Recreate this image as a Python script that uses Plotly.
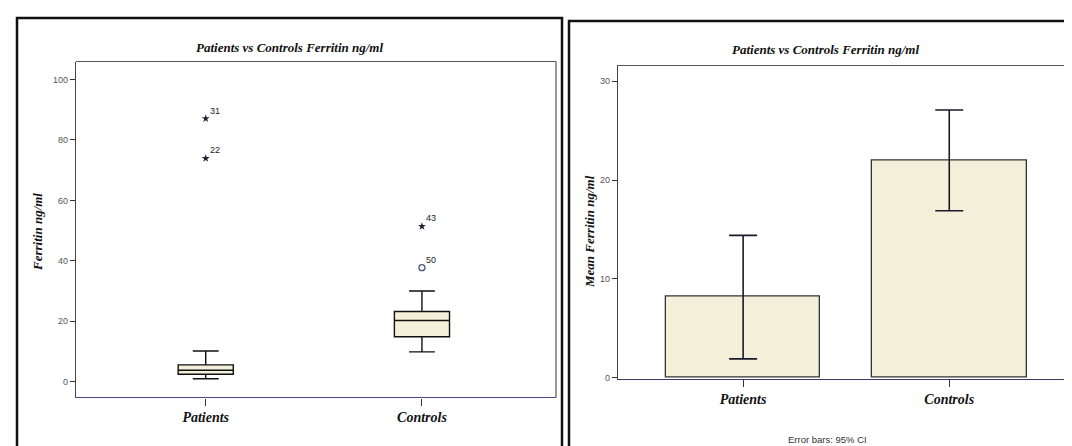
import plotly.graph_objects as go

W, H = 1072, 446

# ---------------- data ----------------
categories = ["Patients", "Controls"]
# box plot summary (Ferritin ng/ml)
box_lower = [0.9, 9.8]
box_q1 = [2.4, 14.8]
box_median = [3.7, 20.2]
box_q3 = [5.5, 23.2]
box_upper = [10.1, 30.0]
# outliers
extreme_group = [0, 0, 1]
extreme_values = [87.1, 73.9, 51.4]
extreme_ids = ["31", "22", "43"]
outlier_group = [1]
outlier_values = [37.7]
outlier_ids = ["50"]
# mean bar chart with 95% CI
means = [8.2, 22.0]
ci_low = [1.9, 16.9]
ci_high = [14.4, 27.1]

left_ticks = [0, 20, 40, 60, 80, 100]
right_ticks = [0, 10, 20, 30]


def px(x):
    return x / W


def py(y):
    return 1 - y / H


serif = "Liberation Serif, Times New Roman, serif"
sans = "Liberation Sans, Arial, sans-serif"
cream = "#f3efd8"

fig = go.Figure()

# ---------- left: box plot ----------
xpos = list(range(len(categories)))
fig.add_trace(go.Box(
    x=xpos, q1=box_q1, median=box_median, q3=box_q3,
    lowerfence=box_lower, upperfence=box_upper,
    width=0.255, whiskerwidth=0.47, boxpoints=False,
    fillcolor=cream, line=dict(color="#111111", width=1.4),
    xaxis="x", yaxis="y", showlegend=False, hoverinfo="skip",
))
fig.add_trace(go.Scatter(
    x=extreme_group, y=extreme_values, mode="markers",
    marker=dict(symbol="star", size=6, color="#222233"),
    xaxis="x", yaxis="y", showlegend=False,
))
fig.add_trace(go.Scatter(
    x=outlier_group, y=outlier_values, mode="markers",
    marker=dict(symbol="circle-open", size=6, color="#555577", line=dict(width=1.3)),
    xaxis="x", yaxis="y", showlegend=False,
))

# ---------- right: bar chart ----------
err_plus = [h - m for h, m in zip(ci_high, means)]
err_minus = [m - l for m, l in zip(means, ci_low)]
fig.add_trace(go.Bar(
    x=xpos, y=means, width=0.75,
    marker=dict(color=cream, line=dict(color="#333333", width=1.3)),
    error_y=dict(type="data", array=err_plus, arrayminus=err_minus,
                 color="#1a1a2a", thickness=1.6, width=14),
    xaxis="x2", yaxis="y2", showlegend=False,
))

axis_common = dict(showgrid=False, zeroline=False, ticks="outside",
                   tickcolor="#333333", fixedrange=True)

annotations = []
for g, v, t in zip(extreme_group + outlier_group, extreme_values + outlier_values,
                   extreme_ids + outlier_ids):
    annotations.append(dict(x=g, y=v, xref="x", yref="y", text=t, showarrow=False,
                            xanchor="left", yanchor="bottom", xshift=2, yshift=1,
                            font=dict(family=sans, size=9, color="#222222")))

title_text = "<b><i>Patients vs Controls Ferritin ng/ml</i></b>"
center = dict(xref="paper", yref="paper", showarrow=False,
              xanchor="center", yanchor="middle")
annotations += [
    dict(x=px(281), y=py(40), text=title_text,
         font=dict(family=serif, size=13, color="#111111"), **center),
    dict(x=px(817), y=py(42), text=title_text,
         font=dict(family=serif, size=13, color="#111111"), **center),
    dict(x=px(30), y=py(226), text="<b><i>Ferritin ng/ml</i></b>", textangle=-90,
         font=dict(family=serif, size=13, color="#111111"), **center),
    dict(x=px(582), y=py(226), text="<b><i>Mean Ferritin ng/ml</i></b>", textangle=-90,
         font=dict(family=serif, size=13, color="#111111"), **center),
    dict(x=px(819), y=py(435), text="Error bars: 95% CI",
         font=dict(family=sans, size=9.5, color="#333333"), **center),
]

shapes = [
    # panel borders
    dict(type="rect", xref="paper", yref="paper", x0=px(9), x1=px(554),
         y0=py(10), y1=py(460), line=dict(color="#111111", width=2.5)),
    dict(type="rect", xref="paper", yref="paper", x0=px(561), x1=px(1090),
         y0=py(13), y1=py(460), line=dict(color="#111111", width=2.5)),
    # top/right edges of plot areas
    dict(type="line", xref="x domain", yref="y domain", x0=0, x1=1, y0=1, y1=1,
         line=dict(color="#555555", width=1.2)),
    dict(type="line", xref="x domain", yref="y domain", x0=1, x1=1, y0=0, y1=1,
         line=dict(color="#555555", width=1.2)),
    dict(type="line", xref="x2 domain", yref="y2 domain", x0=0, x1=1, y0=1, y1=1,
         line=dict(color="#555555", width=1.2)),
    dict(type="line", xref="x2 domain", yref="y2 domain", x0=1, x1=1, y0=0, y1=1,
         line=dict(color="#444444", width=1.2)),
]

fig.update_layout(
    width=W, height=H, autosize=False,
    margin=dict(l=0, r=0, t=0, b=0),
    paper_bgcolor="white", plot_bgcolor="white",
    bargap=0, showlegend=False,
    xaxis=dict(domain=[px(68), px(548)], range=[-0.6, 1.62],
               tickvals=xpos, ticktext=[f"<b><i>{c}</i></b>" for c in categories],
               tickfont=dict(family=serif, size=14, color="#111111"), ticklen=7,
               showline=True, linecolor="#4a4a88", linewidth=1.3,
               **axis_common),
    yaxis=dict(domain=[py(393), py(54)], range=[-5.3, 106],
               tickvals=left_ticks, tickfont=dict(family=sans, size=9, color="#555555"),
               ticklen=5, showline=True, linecolor="#444444", linewidth=1.2,
               **axis_common),
    xaxis2=dict(domain=[px(610), px(1067)], range=[-0.607, 1.61], anchor="y2",
                tickvals=xpos, ticktext=[f"<b><i>{c}</i></b>" for c in categories],
                tickfont=dict(family=serif, size=14, color="#111111"), ticklen=7,
                showline=True, linecolor="#3a3a6a", linewidth=1.3,
                **axis_common),
    yaxis2=dict(domain=[py(374), py(58)], range=[-0.1, 31.6], anchor="x2",
                tickvals=right_ticks, tickfont=dict(family=sans, size=9, color="#555555"),
                ticklen=5, showline=True, linecolor="#444444", linewidth=1.2,
                **axis_common),
    annotations=annotations, shapes=shapes,
)

fig.write_html("out.html")
